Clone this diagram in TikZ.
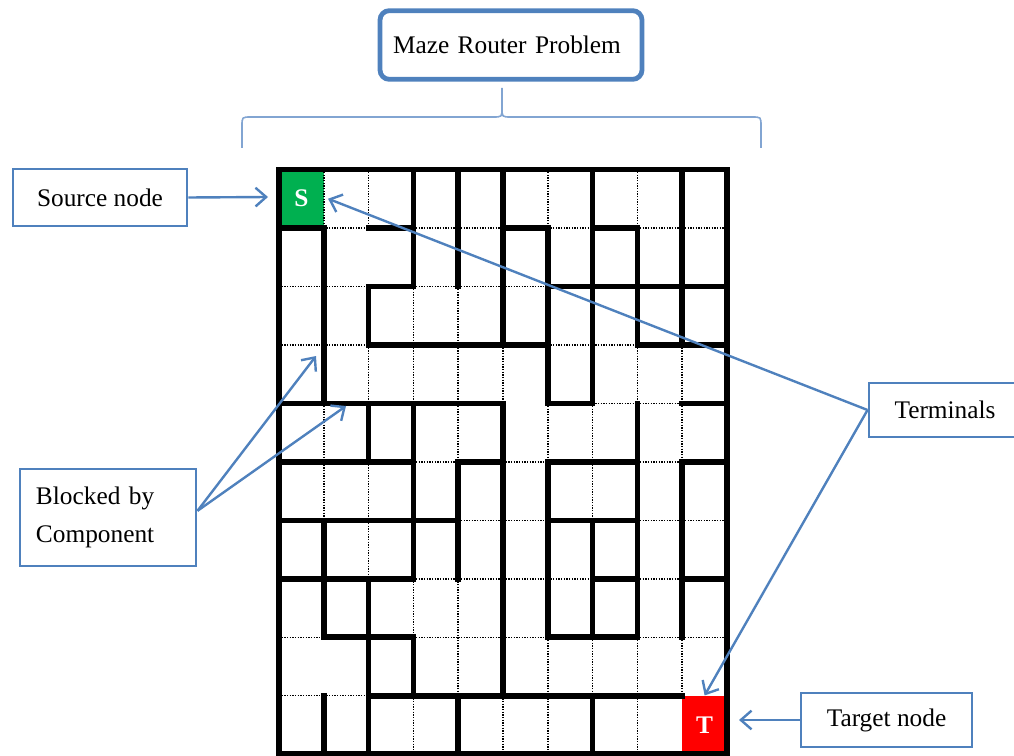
\documentclass[tikz,border=0pt]{standalone}
\usepackage{fontspec}
\setmainfont{Liberation Serif}
\usetikzlibrary{arrows.meta}
\definecolor{boxblue}{RGB}{79,129,189}
\definecolor{braceblue}{RGB}{130,165,210}
\definecolor{srcgreen}{RGB}{0,176,80}
\definecolor{tgtred}{RGB}{255,0,0}
\begin{document}
\begin{tikzpicture}[x=0.75pt, y=-0.75pt,
    labelbox/.style={draw=boxblue, line width=2.2pt, inner sep=0pt, minimum height=40.5pt, font=\fontsize{19}{29}\selectfont},
    titlebox/.style={draw=boxblue, line width=3.6pt, rounded corners=7pt, minimum height=51.5pt, text width=177pt, inner xsep=9.75pt, align=left, font=\fontsize{19}{23}\selectfont},
    pointer/.style={boxblue, line width=1.8pt, -{Straight Barb[length=8pt,width=14pt]}},
    brace/.style={braceblue, line width=1.2pt},
    wall/.style={line width=4.2pt, line cap=rect},
    gridline/.style={line width=1.1pt, dash pattern=on 1pt off 1pt},
    cellmark/.style={text=white, font=\fontsize{19}{19}\selectfont\bfseries, minimum width=33.6pt, minimum height=43.85pt}]
    \useasboundingbox (0,0) rectangle (1014,756);
    \def\cw{33.6pt}
    \def\ch{43.85pt}

    % maze grid, 10 x 10 cells
    \begin{scope}[shift={(279,169.5)}, x=\cw, y=-\ch]
      \fill[srcgreen] (0,0) rectangle (1,1);
      \fill[tgtred] (9,9) rectangle (10,10);
      \foreach \i/\r in {1/0,1/4,1/5,2/0,2/3,2/5,2/6,3/2,3/3,3/7,3/9,4/2,4/3,4/4,4/7,4/8,
                         5/3,5/9,6/0,6/4,6/8,6/9,7/4,7/5,7/8,8/0,8/3,8/8,8/9,9/3,9/4,9/8}
        \draw[gridline] (\i,\r) -- (\i,\r+1);
      \foreach \j/\c in {1/1,1/3,1/4,1/6,1/8,1/9,2/0,2/1,2/3,2/4,2/5,3/0,3/1,3/6,3/7,4/7,4/8,
                         5/3,5/5,5/8,6/4,6/5,6/8,6/9,7/3,7/4,7/5,7/6,7/8,8/0,8/3,8/4,8/5,8/8,8/9,9/0,9/1}
        \draw[gridline] (\c,\j) -- (\c+1,\j);
      \foreach \i/\a/\b in {1/1/4,1/6/8,1/9/10,2/2/3,2/4/5,2/7/10,3/0/2,3/4/7,3/8/9,4/0/2,4/5/7,4/9/10,
                            5/0/3,5/4/9,6/1/4,6/5/8,7/0/4,7/6/8,7/9/10,8/1/3,8/4/8,9/0/3,9/5/8}
        \draw[wall] (\i,\a) -- (\i,\b);
      \foreach \j/\a/\b in {1/0/1,1/2/3,1/5/6,1/7/8,2/2/3,2/6/10,3/2/6,3/8/10,4/0/5,4/6/7,4/9/10,
                            5/0/3,5/4/5,5/6/8,5/9/10,6/0/4,6/6/8,7/0/3,7/7/8,7/9/10,8/1/3,8/6/8,9/2/9}
        \draw[wall] (\a,\j) -- (\b,\j);
      \draw[wall] (0,0) rectangle (10,10);
      \node[cellmark] (S) at (0.5,0.5) {S};
      \node[cellmark] (T) at (9.5,9.5) {T};
    \end{scope}

    \node[titlebox] (title) at (511,45) {Maze Router Problem};
    \draw[brace] (242,148) -- (242,126) .. controls (242,117) .. (251,117)
      -- (493,117) .. controls (502,117) .. (502,108) -- (502,88)
      -- (502,108) .. controls (502,117) .. (511,117)
      -- (752,117) .. controls (761,117) .. (761,126) -- (761,148);

    \node[labelbox, minimum width=130.5pt, minimum height=42.75pt] (src) at (100,197.5) {Source node};
    \node[labelbox, text width=108pt, inner xsep=12pt, minimum height=72.75pt, align=left] (blocked) at (108,517.5) {Blocked by\\Component};
    \node[labelbox, minimum width=114pt] (term) at (945,410) {Terminals};
    \node[labelbox, minimum width=128.25pt] (tgt) at (886.5,720) {Target node};

    \coordinate (srcin) at (268,197);
    \coordinate (blk1) at (316,356);
    \coordinate (blk2) at (346,406);
    \coordinate (tgtin) at (739,720);

    \draw[pointer] (src.east) -- (srcin);
    \draw[pointer] ([yshift=5pt]blocked.east) -- (blk1);
    \draw[pointer] ([yshift=5pt]blocked.east) -- (blk2);
    \draw[pointer] (term.west) -- ([xshift=3pt]S.east);
    \draw[pointer] (term.west) -- (T.north);
    \draw[pointer] (tgt.west) -- (tgtin);
\end{tikzpicture}
\end{document}
